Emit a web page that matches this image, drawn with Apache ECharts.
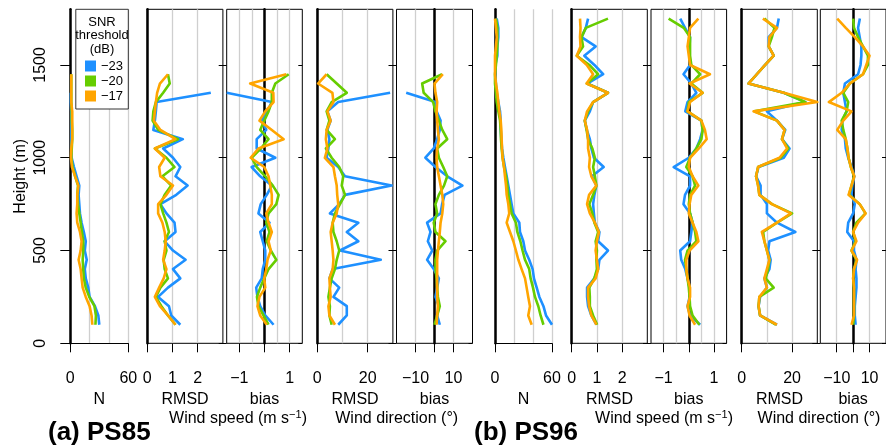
<!DOCTYPE html>
<html><head><meta charset="utf-8">
<script src="https://cdn.jsdelivr.net/npm/echarts@6/dist/echarts.min.js"></script>
<style>html,body{margin:0;padding:0;background:#fff}#c{width:886px;height:448px}</style>
</head><body><div id="c"></div>
<script>
// ---------------- data ----------------
const H85 = [100,150,200,250,300,350,400,450,500,550,600,650,700,750,800,850,900,950,1000,1050,1100,1150,1200,1250,1300,1350,1400,1450];
const H96 = [100,150,200,250,300,350,400,450,500,550,600,650,700,750,800,850,900,950,1000,1050,1100,1150,1200,1250,1300,1350,1400,1450,1500,1550,1600,1650,1700,1750];
const SNR = ['\u221223','\u221220','\u221217'];
const COLORS = ['#1E90FF','#66CD00','#FFA500'];

// PS85
const n85_23 = [30,29,25.5,20,18.6,16,15,17,15,16,14,11.7,10,9.3,8.6,9.3,6.5,3.8,1.4,1,1,1,1,1,0.5,0.5,null,null];
const n85_20 = [26,26.5,25,19.6,16,14,13.4,12.8,13.4,13.4,12,10.7,9.3,8,7.2,8,5,2.4,1,1.5,2,2,1.5,1.5,1,1,1,1];
const n85_17 = [22.8,22,20,16,12.8,11.7,10.7,8.6,10.7,11.7,10,7.2,6.5,7.2,7.2,8.3,5,1.7,0.7,1,2,2,2,2,1,1,1,1];
const rws85_23 = [1.31,0.95,0.86,0.43,0.82,1.31,1.02,1.52,1.02,0.69,1.12,1.08,0.76,0.52,1.15,1.6,1.12,1.31,1.02,0.63,1.41,0.24,0.3,0.34,0.37,2.52,null,null];
const rws85_20 = [1.12,0.82,0.56,0.34,0.52,0.82,0.69,0.65,0.76,0.69,0.86,0.76,0.63,0.52,0.69,0.95,0.6,1.08,0.76,0.3,1.22,0.43,0.21,0.24,0.34,0.63,0.89,0.82];
const rws85_17 = [1.12,0.82,0.5,0.3,0.47,0.65,0.76,0.63,0.69,0.73,0.69,0.6,0.43,0.43,0.76,1.02,0.52,0.47,0.69,0.3,1.12,0.52,0.26,0.3,0.34,0.39,0.5,0.82];
const bws85_23 = [0.36,0.03,-0.17,-0.28,-0.33,-0.11,-0.07,0.03,0.03,-0.07,-0.17,0.2,-0.24,-0.15,0.09,0.29,-0.17,-0.51,0.43,-0.31,-0.31,0.07,-0.1,0.1,0.29,-1.5,null,null];
const bws85_20 = [0.16,-0.04,-0.24,-0.3,-0.17,-0.01,0.16,0.47,0.25,0.09,0.2,0.07,0.16,0.47,0.56,0.33,0.03,-0.31,-0.51,-0.15,0.16,-0.17,-0.01,0.16,0.29,0.29,0.43,0.96];
const bws85_17 = [0.09,-0.17,-0.28,-0.2,0.03,-0.01,0.07,0.12,0.25,0.16,0.29,0.16,0.07,0.29,0.29,0.23,0.16,-0.01,-0.55,-0.24,0.76,0.29,-0.2,0.03,0.36,0.35,-0.57,0.87];
const rwd85_23 = [8.3,11.7,11.7,6.4,8.7,4.8,6.1,25.2,9,16.3,11.7,16.3,5,8.7,11,29.5,11,8.3,3.7,4.4,4.8,4,5.3,4,8.3,28.9,null,null];
const rwd85_20 = [5.7,4.8,5,4.4,5,5.7,7,7.7,8.7,7.7,6.4,6.1,7,9,11,9.7,10.3,8.7,5.7,3.4,7,3.7,4.8,3.7,5.7,11.7,7.7,3.7];
const rwd85_17 = [7,4.8,4.4,5.3,5,4.8,6.1,6.4,6.1,5.7,5.3,6.1,7.7,8.3,7.9,7.7,7,6.4,3,4,3.4,3.7,5.3,4,6.4,6,0.3,3.7];
const bwd85_23 = [2.8,1.4,2.3,0.5,1.4,2.3,-0.4,-3.9,-1.2,-3.5,-2.1,-3.9,3.2,4,5.3,14.7,6.7,0.5,-4.8,-0.4,1.4,2.8,3.2,1.1,0.5,-14.9,null,null];
const bwd85_20 = [0,1.4,2.8,1.8,1.4,1.1,0.5,0.5,1.4,5.8,0.5,-0.4,1.4,0.5,2.3,5,6.7,4.6,2.3,1.4,6.7,4.1,2.3,0.5,-0.7,-5.7,-6.5,4];
const bwd85_17 = [1.1,1.4,1.8,1.4,1.4,1.4,1.4,1.4,1.8,2.3,2.8,3.2,4.1,4.6,4.1,3.2,2.3,1.4,1.1,1.4,2.3,1.8,1.4,1.1,1.4,0.5,0,4.4];

// PS96
const n96_23 = [60,53.7,51,46.7,43.9,41,39.6,36,31.6,29.8,26.3,25.6,19.3,17.5,15.8,14,12.3,10.5,8.8,7.4,6.7,6,6,5.3,3.5,1.8,1,0.4,0.4,2.5,2.5,3.5,3.5,1.8];
const n96_20 = [51,48,45.6,42.1,40,37.5,36,31.6,29,26.7,23.5,22,17.5,15.8,14,13,11.6,9.5,8,7,6.3,6,5.3,3.5,1.8,1,0,0,1,1.8,2.5,2.5,2.5,1];
const n96_17 = [38.6,35,36.8,35,33.3,31.6,28,24.6,22,19.3,15.8,12.3,15,14,12.3,11.6,10.5,9.5,8,7.4,7,6.7,6,4.6,3.5,2.5,1,0,0,0,1,1.8,1,0];
const rws96_23 = [0.98,0.78,0.65,0.61,0.61,0.9,1.05,1.1,1.44,1.05,1.1,0.92,0.88,0.85,0.9,0.98,0.8,1.27,0.88,0.78,0.72,0.6,0.52,0.72,0.85,1.44,0.62,1.25,0.9,0.5,0.95,0.39,0.56,0.65];
const rws96_20 = [1.01,0.85,0.72,0.72,0.7,0.9,1.0,0.98,1.0,0.95,1.05,0.9,0.82,0.7,0.85,0.98,0.92,0.85,0.92,0.82,0.65,0.59,0.52,0.65,0.85,1.44,0.6,1.05,0.7,0.2,0.45,0.39,0.56,1.44];
const rws96_17 = [0.98,0.78,0.69,0.65,0.65,0.95,1.05,1.0,0.95,1.0,1.08,0.92,0.72,0.61,0.69,0.98,0.78,0.69,0.72,0.65,0.65,0.61,0.52,0.61,0.85,1.44,0.59,0.85,0.6,0.2,0.35,0.33,0.35,0.33];
const bws96_23 = [0.45,0.05,-0.05,0.03,0.03,-0.05,-0.14,-0.3,-0.34,0.05,0.1,0.15,0.05,-0.21,-0.15,0.05,0.05,-0.6,0,0.3,0.45,0.55,0.5,-0.14,-0.05,0.3,0.1,-0.21,0.05,0.03,0.03,0.05,-0.15,-0.34];
const bws96_20 = [0.42,0.15,0.05,0.03,0,-0.05,-0.1,-0.15,-0.05,0.3,0.25,0.15,0.05,0,0.05,0.25,0.15,-0.1,0.05,0.3,0.5,0.55,0.5,-0.05,0,0.55,0.1,0.45,0.1,0.05,0.05,0.05,-0.2,-0.8];
const bws96_17 = [0.25,0.03,-0.05,0.05,0.05,-0.05,-0.1,-0.1,0.03,0.38,0.3,0.15,0,0.03,0.1,0.38,0.15,0,0.05,0.4,0.71,0.64,0.5,-0.05,0.05,0.55,0.03,0.84,0.05,0,-0.05,0,0.05,0.38];
const rwd96_23 = [14,7.3,6.7,7.3,10,9,11,11.5,10.5,11,21.3,14,10,10,7.5,7.5,5.7,6.7,16.7,19,16,17.3,14,10,25.3,16.7,2.7,6,9.3,12.7,10.7,10.7,14,14.7];
const rwd96_20 = [13.5,7.3,6.7,7,12.7,9.5,10.5,11,10,9,8.5,14,20,12,7,6.5,5.7,6.5,15.5,18.5,16,17,14,5,25.3,16.7,2.7,6,9.3,12.7,10.7,12,13,9];
const rwd96_17 = [14,7.3,6.7,7,10,9,10,11,10,9,8,14,19.5,12,7,6.5,5.7,6.5,15,18,16,17,14,4.7,30,16.7,2.7,6,9.3,12.7,10.7,11,14,8.4];
const bwd96_23 = [1.5,1,1,1.5,2,2,1.5,2,0.5,0.5,-3.6,-3,0,1,-1,-0.5,0.7,-1,-3,-4.5,-5,-7,-6.5,-4,-5,-6,-5,3,4.5,5,5,4,3,4.1];
const bwd96_20 = [0,0.5,0.5,0.5,0.5,0,0.5,2,-1,1.5,0,2,7.5,4,-2.5,-1,0.5,-1.4,-2.8,-3.5,-4.5,-6,-7,-4,-3,-6,-2,6,9,9,6,3,0.5,0];
const bwd96_17 = [-1,0.5,0.5,0.5,0.5,0,0.5,2.4,-1,2,0,3,7.6,4,-2.8,-1,0.7,-1.4,-2.8,-3.5,-4.5,-9.7,-6,-1,-14.8,-7,-2,6,8,10,6,1,-4.5,-9.7];

// axis ticks / labels
const Y_TICKS = [0,500,1000,1500];
const N_TICKS = [0,60], N_LABELS = [0,60];
const RWS_TICKS = [0,1,2], RWS_LABELS = [0,1,2];
const BWS_TICKS = [-1,0,1], BWS_LABELS = [-1,1];
const RWD_TICKS = [0,20], RWD_LABELS = [0,20];
const BWD_TICKS = [-10,0,10], BWD_LABELS = [-10,10];

// ---------------- layout ----------------
const FONT = 'Liberation Sans, Arial, Helvetica, sans-serif';
const TOP = 9.3, HEIGHT = 334;
const panels = [
  {left:70.3, width:58,  min:0, max:60, grid:20, ticks:N_TICKS, labels:N_LABELS, name:'N', box:false, H:H85, d:[n85_23,n85_20,n85_17], first:true},
  {left:147.3, width:75.6, min:0, max:3, grid:1, ticks:RWS_TICKS, labels:RWS_LABELS, name:'RMSD', box:true, H:H85, d:[rws85_23,rws85_20,rws85_17]},
  {left:226.7, width:75.6, min:-1.5, max:1.5, grid:0.5, ticks:BWS_TICKS, labels:BWS_LABELS, name:'bias', box:true, bias:true, H:H85, d:[bws85_23,bws85_20,bws85_17]},
  {left:317.3, width:75.6, min:0, max:30, grid:10, ticks:RWD_TICKS, labels:RWD_LABELS, name:'RMSD', box:true, H:H85, d:[rwd85_23,rwd85_20,rwd85_17]},
  {left:396.5, width:76, min:-20, max:20, grid:10, ticks:BWD_TICKS, labels:BWD_LABELS, name:'bias', box:true, bias:true, H:H85, d:[bwd85_23,bwd85_20,bwd85_17]},
  {left:495, width:57,  min:0, max:60, grid:20, ticks:N_TICKS, labels:N_LABELS, name:'N', box:false, H:H96, d:[n96_23,n96_20,n96_17]},
  {left:571.7, width:75.6, min:0, max:3, grid:1, ticks:RWS_TICKS, labels:RWS_LABELS, name:'RMSD', box:true, H:H96, d:[rws96_23,rws96_20,rws96_17]},
  {left:651, width:75.6, min:-1.5, max:1.5, grid:0.5, ticks:BWS_TICKS, labels:BWS_LABELS, name:'bias', box:true, bias:true, H:H96, d:[bws96_23,bws96_20,bws96_17]},
  {left:741.7, width:75.6, min:0, max:30, grid:10, ticks:RWD_TICKS, labels:RWD_LABELS, name:'RMSD', box:true, H:H96, d:[rwd96_23,rwd96_20,rwd96_17]},
  {left:820.3, width:76, min:-20, max:20, grid:10, ticks:BWD_TICKS, labels:BWD_LABELS, name:'bias', box:true, bias:true, H:H96, d:[bwd96_23,bwd96_20,bwd96_17]}
];

const fmt = v => (v < 0 ? '\u2212' + Math.abs(v) : String(v));
const grids = [], xAxes = [], yAxes = [], series = [];
panels.forEach((p, i) => {
  grids.push({left:p.left, top:TOP, width:p.width, height:HEIGHT, show:p.box, borderColor:'#000', borderWidth:1, backgroundColor:'transparent'});
  const xi = xAxes.length;
  xAxes.push({gridIndex:i, type:'value', min:p.min, max:p.max, position:'bottom',
    axisLine:{show:!p.box, onZero:false, lineStyle:{color:'#000', width:1}},
    axisTick:{show:true, length:9, customValues:p.ticks, lineStyle:{color:'#000', width:1}},
    axisLabel:{show:true, customValues:p.labels, margin:27, fontSize:16, color:'#000', fontFamily:FONT, formatter:fmt},
    splitLine:{show:false},
    name:p.name, nameLocation:'middle', nameGap:47, nameTextStyle:{fontSize:16, color:'#000', fontFamily:FONT}});
  xAxes.push({gridIndex:i, type:'value', min:p.min, max:p.max, interval:p.grid, position:'top',
    axisLine:{show:false, onZero:false}, axisTick:{show:false}, axisLabel:{show:false},
    splitLine:{show:true, showMinLine:!p.box, showMaxLine:!p.box, lineStyle:{color:'#cfcfcf', width:1.3}}});
  const yi = yAxes.length;
  yAxes.push({gridIndex:i, type:'value', min:0, max:1800, position:'left',
    axisLine:{show:true, onZero:true, lineStyle:{color:'#000', width:2.5}},
    axisTick:{show:!!p.first, length:10, customValues:Y_TICKS, lineStyle:{color:'#000', width:1}},
    axisLabel:{show:!!p.first, customValues:Y_TICKS, rotate:90, margin:22, fontSize:16, color:'#000', fontFamily:FONT, formatter:v => String(v)},
    splitLine:{show:false},
    name:p.first ? 'Height (m)' : '', nameLocation:'middle', nameGap:42, nameTextStyle:{fontSize:16, color:'#000', fontFamily:FONT}});
  if (p.bias) {
    yAxes.push({gridIndex:i, type:'value', min:0, max:1800, position:'left', offset:0,
      axisLine:{show:false, onZero:false}, axisTick:{show:true, length:8, customValues:Y_TICKS, lineStyle:{color:'#000', width:1}},
      axisLabel:{show:false}, splitLine:{show:false}});
    yAxes.push({gridIndex:i, type:'value', min:0, max:1800, position:'right', offset:0,
      axisLine:{show:false, onZero:false}, axisTick:{show:true, inside:true, length:4, customValues:Y_TICKS, lineStyle:{color:'#000', width:1}},
      axisLabel:{show:false}, splitLine:{show:false}});
  }
  p.d.forEach((vals, k) => {
    const pts = [];
    vals.forEach((v, j) => { if (v !== null) pts.push([v, p.H[j]]); });
    series.push({type:'line', name:SNR[k], xAxisIndex:xi, yAxisIndex:yi, data:pts,
      showSymbol:false, symbol:'none', clip:true, z:3+k,
      lineStyle:{color:COLORS[k], width:2.6, join:'round'}, itemStyle:{color:COLORS[k]}});
  });
});

const txt = (x, y, s, extra) => ({type:'text', x, y, z:30,
  style:Object.assign({text:s, fill:'#000', font:'16px ' + FONT, align:'center', verticalAlign:'middle'}, extra || {})});
const supRich = {sup:{fontSize:11, fontFamily:FONT, fill:'#000', padding:[0,0,9,0]}};

const option = {
  animation:false,
  backgroundColor:'#fff',
  grid:grids, xAxis:xAxes, yAxis:yAxes, series,
  legend:{data:SNR, orient:'vertical', left:85, top:58.5, padding:0, itemWidth:11, itemHeight:11, itemGap:0,
    icon:'rect', z:40, textStyle:{fontSize:13, lineHeight:15, color:'#000', fontFamily:FONT}, selectedMode:false},
  graphic:[
    {type:'rect', z:20, shape:{x:75.8, y:9.3, width:52.5, height:99.7}, style:{fill:'#fff', stroke:'#333', lineWidth:1}},
    txt(102, 22, 'SNR', {font:'13px ' + FONT}),
    txt(102, 35.5, 'threshold', {font:'13px ' + FONT}),
    txt(102, 49.5, '(dB)', {font:'13px ' + FONT}),
    txt(238, 419, 'Wind speed (m s{sup|\u22121})', {rich:supRich}),
    txt(396.7, 419, 'Wind direction (\u00b0)'),
    txt(664, 419, 'Wind speed (m s{sup|\u22121})', {rich:supRich}),
    txt(819, 419, 'Wind direction (\u00b0)'),
    txt(48, 433, '(a) PS85', {font:'bold 26px ' + FONT, align:'left'}),
    txt(474, 433, '(b) PS96', {font:'bold 26px ' + FONT, align:'left'})
  ]
};
const chart = echarts.init(document.getElementById('c'), null, {renderer:'canvas'});
chart.setOption(option);
</script></body></html>
